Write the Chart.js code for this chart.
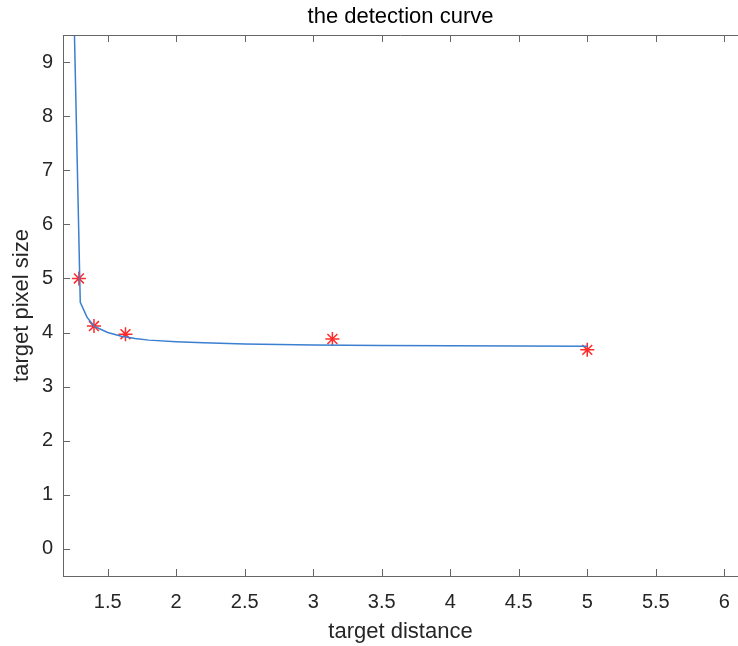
<!DOCTYPE html>
<html>
<head>
<meta charset="utf-8">
<script src="https://cdn.jsdelivr.net/npm/chart.js@4/dist/chart.umd.min.js"></script>
<style>
  html, body { margin: 0; padding: 0; background: #fff; }
  #wrap { width: 738px; height: 646px; }
</style>
</head>
<body>
<div id="wrap"><canvas id="myChart"></canvas></div>
<script>
// fitted curve samples
var curveX = [1.25, 1.30, 1.35, 1.40, 1.50, 1.60, 1.70, 1.80, 2.00, 2.20, 2.50, 3.00, 3.50, 4.00, 4.50, 5.00];
var curveY = [10.4, 4.56, 4.28, 4.12, 4.00, 3.93, 3.89, 3.86, 3.83, 3.81, 3.79, 3.77, 3.76, 3.755, 3.75, 3.745];

// measured points (red stars)
var measX = [1.29, 1.40, 1.63, 3.14, 5.00];
var measY = [5.00, 4.12, 3.97, 3.88, 3.68];

// tick labels
var xTicks = [1.5, 2, 2.5, 3, 3.5, 4, 4.5, 5, 5.5, 6];
var yTicks = [0, 1, 2, 3, 4, 5, 6, 7, 8, 9];

var axisColor = '#666666';
var textColor = '#262626';
var fontFamily = '"Liberation Sans", Arial, Helvetica, sans-serif';

function toXY(xs, ys) {
  return xs.map(function (x, i) { return { x: x, y: ys[i] }; });
}

function fmt(v) {
  return String(+Number(v).toFixed(2));
}

// MATLAB-like box with inward ticks (right edge is cut off in the picture)
var boxTicks = {
  id: 'boxTicks',
  afterDraw: function (chart) {
    var c = chart.ctx, a = chart.chartArea;
    var xs = chart.scales.x, ys = chart.scales.y;
    var len = 7;
    c.save();
    c.strokeStyle = axisColor;
    c.lineWidth = 1;
    c.beginPath();
    c.moveTo(a.left, a.top + 0.5);
    c.lineTo(a.right, a.top + 0.5);
    xs.ticks.forEach(function (t) {
      var px = Math.round(xs.getPixelForValue(t.value)) + 0.5;
      c.moveTo(px, a.bottom);
      c.lineTo(px, a.bottom - len);
      c.moveTo(px, a.top);
      c.lineTo(px, a.top + len);
    });
    ys.ticks.forEach(function (t) {
      var py = Math.round(ys.getPixelForValue(t.value)) + 0.5;
      c.moveTo(a.left, py);
      c.lineTo(a.left + len, py);
    });
    c.stroke();
    c.restore();
  }
};

var ctx = document.getElementById('myChart').getContext('2d');
var myChart = new Chart(ctx, {
  type: 'scatter',
  data: {
    datasets: [{
      label: 'curve',
      data: toXY(curveX, curveY),
      showLine: true,
      borderColor: '#3a7fd0',
      borderWidth: 1.5,
      pointRadius: 0,
      tension: 0
    }, {
      label: 'points',
      data: toXY(measX, measY),
      showLine: false,
      pointStyle: 'star',
      pointRadius: 7,
      borderColor: '#ff2a2a',
      backgroundColor: '#ff2a2a',
      pointBorderWidth: 1.5
    }]
  },
  options: {
    responsive: true,
    maintainAspectRatio: false,
    animation: false,
    layout: { padding: 0, autoPadding: false },
    plugins: {
      legend: { display: false },
      tooltip: { enabled: false },
      title: {
        display: true,
        text: 'the detection curve',
        fullSize: false,
        color: '#000',
        font: { family: fontFamily, size: 22, weight: 'normal' },
        padding: { top: 4, bottom: 4.6 }
      }
    },
    scales: {
      x: {
        type: 'linear',
        min: 1.174,
        max: 6.1,
        afterBuildTicks: function (s) {
          s.ticks = xTicks.map(function (v) { return { value: v }; });
        },
        afterFit: function (s) {
          s.height = 70;
          s.paddingLeft = 0;
          s.paddingRight = 0;
        },
        border: { display: true, color: axisColor, width: 1 },
        grid: { display: false, drawTicks: false },
        ticks: {
          color: textColor,
          padding: 14,
          maxRotation: 0,
          autoSkip: false,
          callback: fmt,
          font: { family: fontFamily, size: 20 }
        },
        title: {
          display: true,
          text: 'target distance',
          color: textColor,
          font: { family: fontFamily, size: 22 },
          padding: { top: 0, bottom: 1 }
        }
      },
      y: {
        type: 'linear',
        min: -0.5,
        max: 9.5,
        afterBuildTicks: function (s) {
          s.ticks = yTicks.map(function (v) { return { value: v }; });
        },
        afterFit: function (s) {
          s.width = 63;
          s.paddingTop = 0;
          s.paddingBottom = 0;
        },
        border: { display: true, color: axisColor, width: 1 },
        grid: { display: false, drawTicks: false },
        ticks: {
          color: textColor,
          padding: 10,
          autoSkip: false,
          callback: fmt,
          font: { family: fontFamily, size: 20 }
        },
        title: {
          display: true,
          text: 'target pixel size',
          color: textColor,
          font: { family: fontFamily, size: 22 },
          padding: { top: 9, bottom: 0 }
        }
      }
    }
  },
  plugins: [boxTicks]
});
</script>
</body>
</html>
